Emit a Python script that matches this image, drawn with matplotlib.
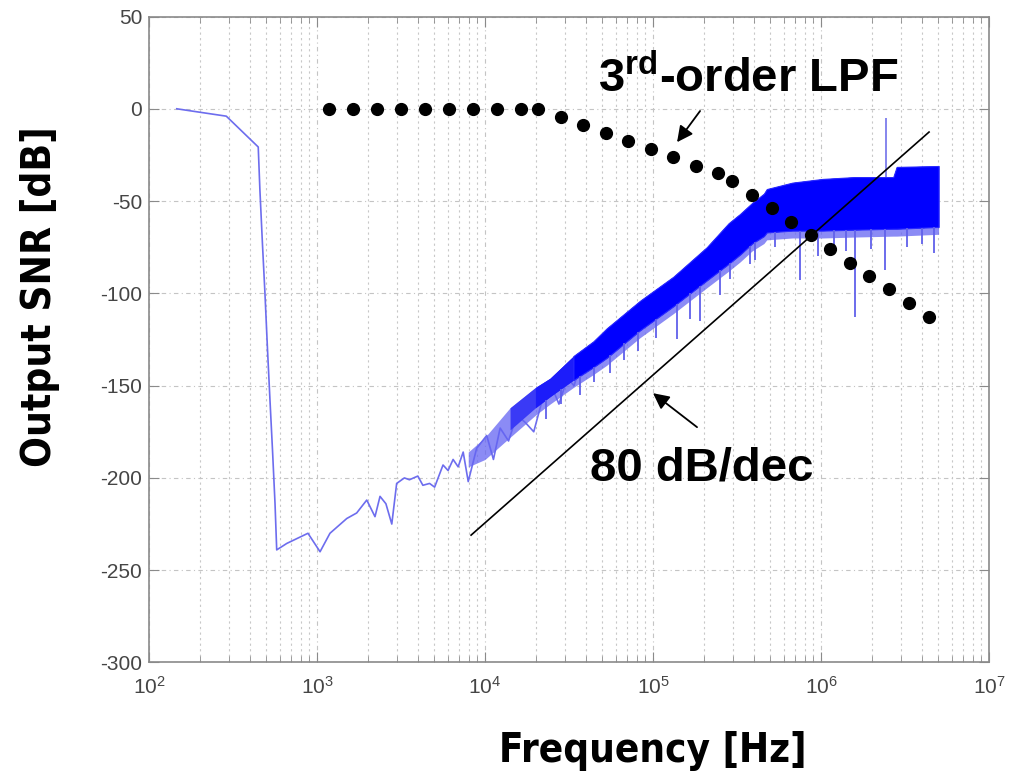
import numpy as np
import matplotlib
matplotlib.use("Agg")
import matplotlib.pyplot as plt
from matplotlib import font_manager as fm
from matplotlib.ticker import LogLocator, MultipleLocator

plt.rcParams["axes.unicode_minus"] = False
plt.rcParams["mathtext.default"] = "regular"
plt.rcParams["font.family"] = ["Liberation Sans", "DejaVu Sans"]

# Blue trace, sparse low-frequency part (log10 of Hz, dB)
trace_log10hz = [2.165, 2.29, 2.46, 2.65, 2.66, 2.675, 2.69, 2.705, 2.72, 2.735,
                 2.75, 2.76, 2.82, 2.946, 3.018, 3.077, 3.177, 3.236, 3.296, 3.345,
                 3.375, 3.41, 3.445, 3.474, 3.52, 3.55, 3.60, 3.63, 3.67, 3.70,
                 3.75, 3.78, 3.81, 3.84, 3.87, 3.90, 3.95, 4.01, 4.05, 4.09,
                 4.14, 4.19, 4.24, 4.29, 4.34, 4.39, 4.44, 4.49, 4.53, 4.58]
trace_snr = [0, -1.7, -4, -20.7, -44, -73, -100, -130, -158, -185,
             -214, -239, -235.5, -230, -240, -230, -222, -219, -212, -221,
             -210, -214, -225, -203, -200, -201, -199, -204, -203, -205,
             -193, -196, -190, -194, -186, -202, -184, -177, -190, -173,
             -180, -166, -170, -175, -158, -149, -160, -146, -150, -135]

# Dense noisy band, upper/lower envelope
band_log10hz = [3.90, 4.00, 4.149, 4.30, 4.387, 4.526, 4.645, 4.724, 4.923, 5.121,
                5.32, 5.45, 5.518, 5.59, 5.66, 5.677, 5.83, 6.01, 6.20, 6.43,
                6.45, 6.70]
band_upper = [-186, -178, -162, -151, -146, -134, -126, -119, -104, -91,
              -75, -62, -57, -51, -46, -43.5, -40, -38, -37, -37,
              -31.5, -31]
band_lower = [-190, -186, -174, -162, -156, -147, -140, -135, -120, -107,
              -93, -84, -79, -73, -69, -67, -66, -66, -65.5, -65,
              -65, -64]

# isolated spikes below / above the band
spike_log10hz = [4.36, 4.45, 4.565, 4.65, 4.744, 4.83, 4.913, 5.02, 5.14, 5.22,
                 5.28, 5.40, 5.458, 5.577, 5.607, 5.726, 5.875, 5.98, 6.08, 6.15,
                 6.20, 6.30, 6.38, 6.51, 6.60, 6.67]
spike_snr = [-168, -160, -155, -148, -143, -136, -131, -124, -125, -114,
             -115, -101, -92, -84, -82, -75, -93, -80, -76, -77,
             -113, -76, -87.5, -75, -73, -78]
spike_up_log10hz = [6.385]
spike_up_snr = [-5]

# 3rd-order LPF response (dots)
lpf_log10hz = [3.071, 3.216, 3.359, 3.502, 3.643, 3.786, 3.930, 4.070, 4.214, 4.317,
               4.451, 4.585, 4.720, 4.853, 4.988, 5.121, 5.256, 5.389, 5.472, 5.591,
               5.707, 5.821, 5.939, 6.054, 6.173, 6.288, 6.407, 6.526, 6.643]
lpf_snr = [0, 0, 0, 0, 0, 0, 0, 0, 0, 0,
           -4.4, -9.0, -13.2, -17.6, -21.9, -26.3, -30.8, -35.0, -39.3, -46.6,
           -53.8, -61.3, -68.5, -76.1, -83.3, -90.7, -97.9, -105.5, -112.8]

# 80 dB/dec reference line
slope_log10hz = [3.917, 6.643]
slope_snr = [-231, -12.6]


def hz(v):
    return 10 ** np.asarray(v, dtype=float)


def condensed_bold():
    # look for a narrow / condensed bold face, else plain bold sans
    found = []
    for fe in fm.fontManager.ttflist:
        w = fe.weight
        if isinstance(w, str):
            w = fm.weight_dict.get(w, 400)
        nm = fe.name.lower()
        narrow = ("narrow" in nm or "condensed" in nm
                  or fe.stretch in ("condensed", "semi-condensed", "extra-condensed"))
        if narrow and w >= 600 and "italic" not in fe.style and "oblique" not in fe.style:
            found.append(fe)
    if found:
        found.sort(key=lambda fe: (0 if "liberation" in fe.name.lower() else 1))
        return fm.FontProperties(fname=found[0].fname)
    return fm.FontProperties(family="Liberation Sans", weight="bold")


fig = plt.figure(figsize=(10.09, 7.75), dpi=100)
ax = fig.add_axes([0.1477, 0.1452, 0.8325, 0.8335])

bx = np.array(band_log10hz)
ax.plot(hz(trace_log10hz), trace_snr, color="#6d6dee", lw=1.2, zorder=3)
# the band gets denser (darker) towards high frequency
ax.fill_between(hz(bx), np.array(band_lower) - 4, band_upper, color="#6464f2",
                alpha=0.75, lw=0, zorder=3)
ax.fill_between(hz(bx), band_lower, band_upper, where=bx >= 4.149,
                color="#3a3af6", lw=0, zorder=3)
ax.fill_between(hz(bx), band_lower, band_upper, where=bx >= 4.30,
                color="#1c1cfa", lw=0, zorder=3)
ax.fill_between(hz(bx), band_lower, band_upper, where=bx >= 4.526,
                color="#0000ff", lw=0.8, edgecolor="#2a2aff", zorder=3)
ax.vlines(hz(spike_log10hz), np.interp(spike_log10hz, band_log10hz, band_lower),
          spike_snr, color="#6060ea", lw=1.3, zorder=3)
ax.vlines(hz(spike_up_log10hz), np.interp(spike_up_log10hz, band_log10hz, band_upper),
          spike_up_snr, color="#7c7cec", lw=1.3, zorder=3)

ax.plot(hz(lpf_log10hz), lpf_snr, "o", color="black", ms=8.5, zorder=5)
ax.plot(hz(slope_log10hz), slope_snr, color="black", lw=1.2, zorder=4)

ax.set_xscale("log")
ax.set_xlim(1e2, 1e7)
ax.set_ylim(-300, 50)
ax.yaxis.set_major_locator(MultipleLocator(50))
ax.xaxis.set_major_locator(LogLocator(base=10, numticks=10))
ax.xaxis.set_minor_locator(LogLocator(base=10, subs=np.arange(2, 10), numticks=20))

ax.grid(True, which="major", axis="both", color="#c4c4c4", lw=0.8,
        linestyle=(0, (4, 3, 1, 3)))
ax.grid(True, which="minor", axis="x", color="#c8c8c8", lw=0.8,
        linestyle=(0, (2, 3)))
ax.set_axisbelow(True)

for s in ax.spines.values():
    s.set_color("#8a8a8a")
    s.set_linewidth(1.2)
ax.tick_params(which="both", direction="in", top=True, right=True, color="#8a8a8a")
ax.tick_params(which="major", length=7, labelsize=15, labelcolor="#454545")
ax.tick_params(axis="y", which="major", pad=5)
ax.tick_params(axis="x", which="major", pad=10)
ax.tick_params(which="minor", length=4)

# axis titles in a narrow bold face, sized to the reference widths
fp = condensed_bold()
renderer = fig.canvas.get_renderer()
ylab = fig.text(0.040, 0.617, "Output SNR [dB]", rotation=90, ha="center",
                va="center", fontproperties=fp, fontsize=34)
xlab = fig.text(0.6467, 0.0172, "Frequency [Hz]", ha="center", va="baseline",
                fontproperties=fp, fontsize=34)
for t, target, use_h in ((ylab, 340, True), (xlab, 308, False)):
    bb = t.get_window_extent(renderer)
    size = bb.height if use_h else bb.width
    t.set_fontsize(min(max(34 * target / size, 26), 38))

bold = dict(fontsize=34, fontweight="bold", family=["Liberation Sans", "DejaVu Sans"])
ax.text(hz(4.673), 9.1, r"3$^{\mathregular{rd}}$-order LPF", ha="left",
        va="baseline", **bold)
ax.text(hz(4.625), -201.2, "80 dB/dec", ha="left", va="baseline", **bold)

arrow = dict(arrowstyle="-|>", color="black", lw=1.3, mutation_scale=24,
             shrinkA=0, shrinkB=0)
ax.annotate("", xy=(hz(5.143), -18.1), xytext=(hz(5.280), -1.2), arrowprops=arrow)
ax.annotate("", xy=(hz(5.0), -154.1), xytext=(hz(5.262), -172.5), arrowprops=arrow)

fig.savefig("out.png", dpi=100)
